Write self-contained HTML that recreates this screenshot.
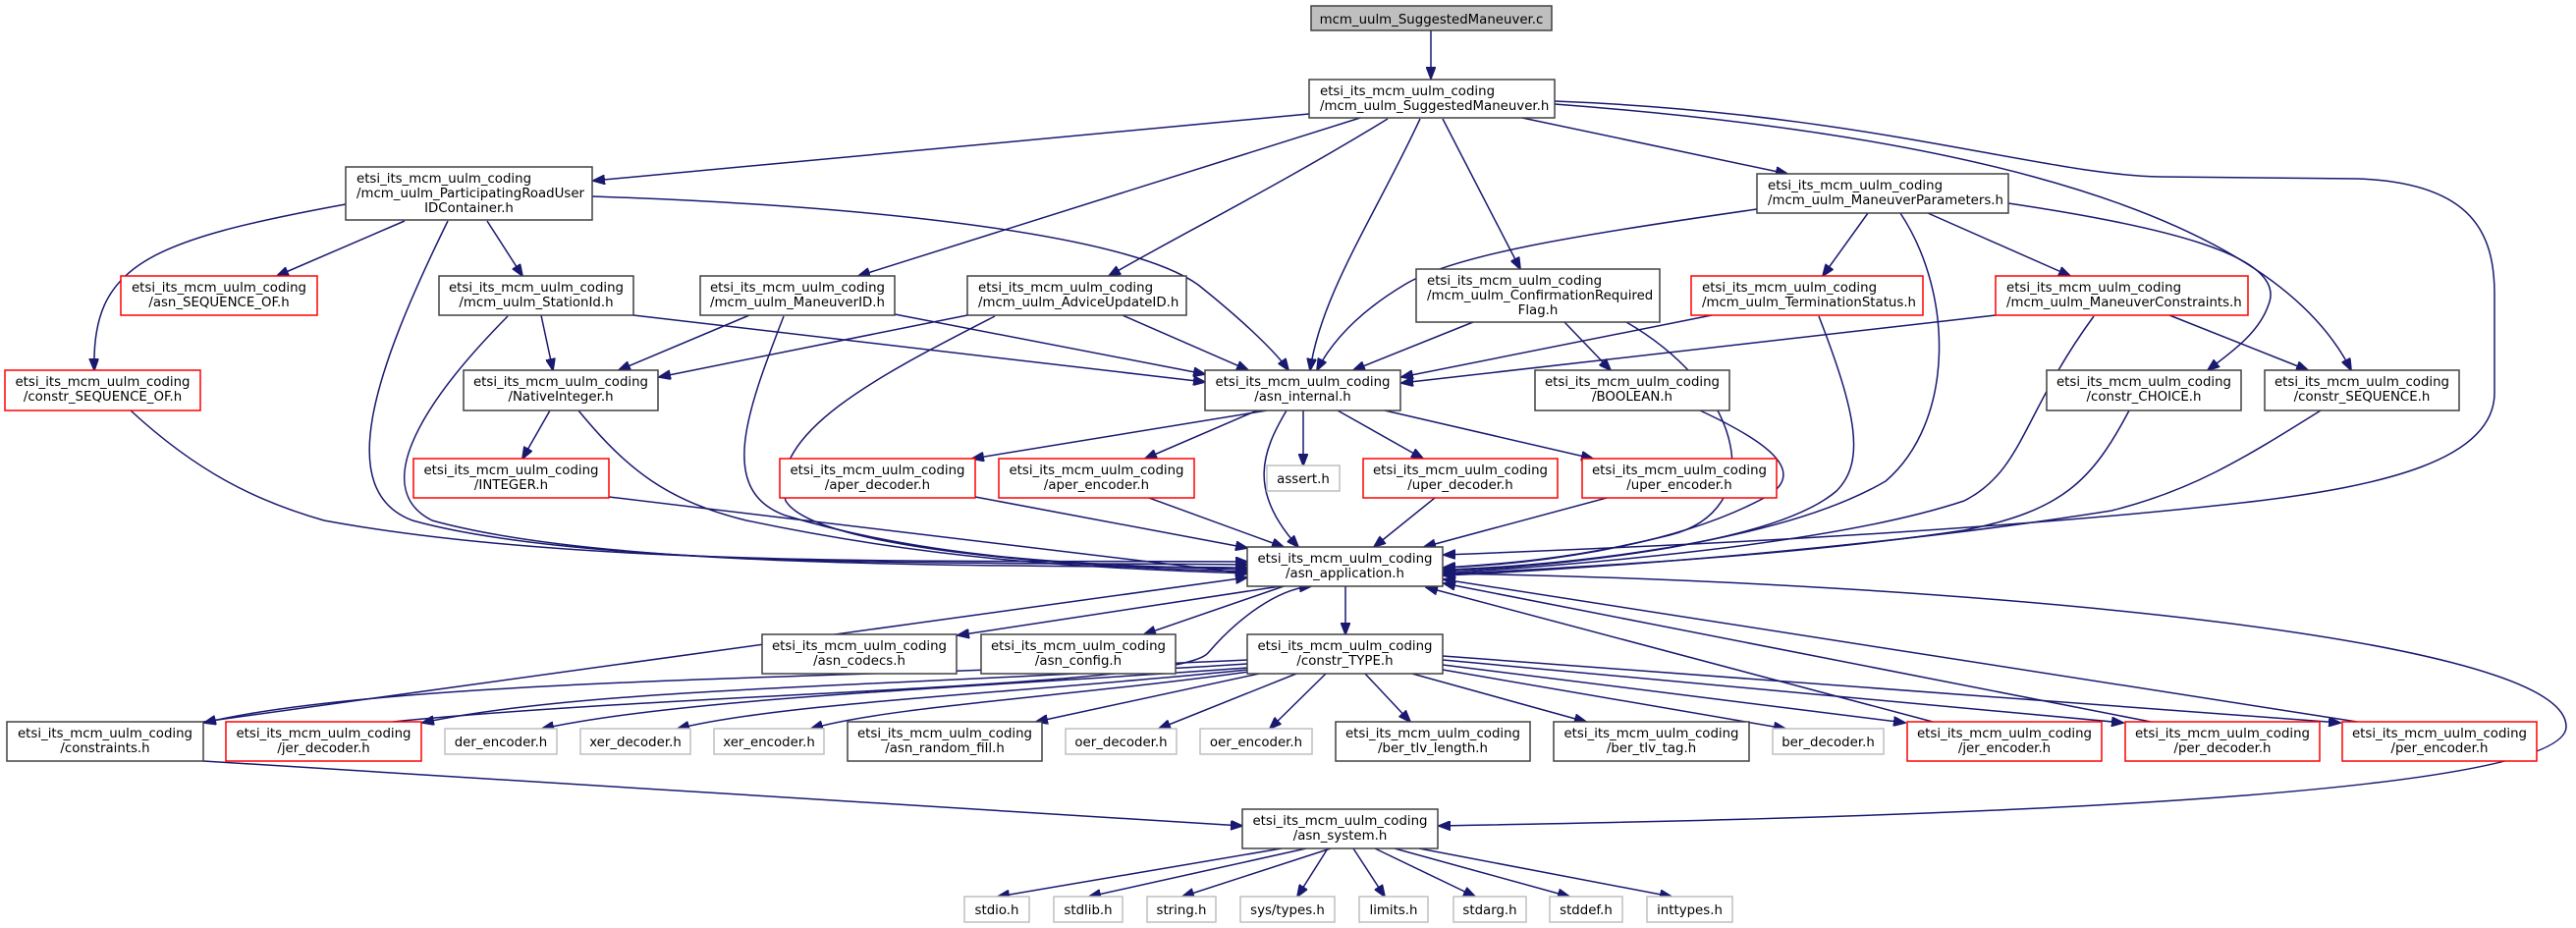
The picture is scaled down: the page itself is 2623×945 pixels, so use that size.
<!DOCTYPE html>
<html><head><meta charset="utf-8"><style>
html,body{margin:0;padding:0;background:#fff}
svg{display:block}
text{font-family:"DejaVu Sans","Liberation Sans",sans-serif;font-size:13.33px;fill:#000}
.n{fill:#fff;stroke:#404040;stroke-width:1.5}
.r{fill:#fff;stroke:#ff0000;stroke-width:1.5}
.g{fill:#fff;stroke:#bfbfbf;stroke-width:1.5}
.e{fill:none;stroke:#191970;stroke-width:1.5;marker-end:url(#a)}
</style></head><body>
<svg width="2623" height="945" viewBox="0 0 2623 945" xmlns="http://www.w3.org/2000/svg">
<defs><marker id="a" markerUnits="userSpaceOnUse" markerWidth="13" markerHeight="10" viewBox="0 0 13 10" refX="12" refY="5" orient="auto"><path d="M0,0 L13,5 L0,10 z" fill="#191970" stroke="#191970"/></marker></defs>

<!-- edges -->
<path class="e" d="M1457,31 L1457,80"/>
<path class="e" d="M1333,116 L604,184"/>
<path class="e" d="M1385,120 L874,281"/>
<path class="e" d="M1413,121 C1300,190 1200,240 1129,281"/>
<path class="e" d="M1446,121 C1400,220 1345,300 1334,377"/>
<path class="e" d="M1469,121 L1548,274"/>
<path class="e" d="M1550,120 L1820,177"/>
<path class="e" d="M1583,106 C1900,130 2300,190 2394,377"/>
<path class="e" d="M1583,103 C1900,115 2080,178 2200,180 L2400,182 C2520,186 2540,240 2540,300 L2540,400 C2540,470 2420,495 2300,510 C2000,545 1600,560 1470,565"/>
<path class="e" d="M412,225 L282,281"/>
<path class="e" d="M352,208 C150,245 93,270 96,377"/>
<path class="e" d="M496,225 L532,281"/>
<path class="e" d="M456,225 C380,380 340,500 420,530 C600,580 1000,572 1270,575"/>
<path class="e" d="M603,200 C900,210 1150,240 1220,290 C1270,330 1300,360 1312,377"/>
<path class="e" d="M551,321 L563,377"/>
<path class="e" d="M645,321 L1227,389"/>
<path class="e" d="M517,322 C420,420 380,500 440,530 C620,580 1000,575 1270,578"/>
<path class="e" d="M763,321 L630,377"/>
<path class="e" d="M911,320 L1227,381"/>
<path class="e" d="M798,322 C760,420 730,500 800,525 C950,570 1100,575 1270,580"/>
<path class="e" d="M985,321 L671,384"/>
<path class="e" d="M1143,321 L1271,377"/>
<path class="e" d="M1013,322 C900,380 780,440 800,510 C830,560 1100,578 1270,582"/>
<path class="e" d="M1500,328 L1378,377"/>
<path class="e" d="M1593,328 L1640,377"/>
<path class="e" d="M1656,328 C1780,400 1800,520 1700,545 C1600,570 1520,575 1470,578"/>
<path class="e" d="M1789,213 C1600,240 1480,260 1430,290 C1380,320 1355,350 1341,377"/>
<path class="e" d="M1902,217 L1856,281"/>
<path class="e" d="M1963,217 L2108,281"/>
<path class="e" d="M2045,207 C2200,230 2330,260 2310,310 C2300,340 2270,360 2248,377"/>
<path class="e" d="M1935,217 C1990,300 1990,430 1920,490 C1800,560 1550,578 1470,580"/>
<path class="e" d="M1743,321 L1427,384"/>
<path class="e" d="M1852,322 C1890,420 1900,470 1870,500 C1800,560 1550,578 1470,582"/>
<path class="e" d="M2032,321 L1427,390"/>
<path class="e" d="M2209,321 L2350,377"/>
<path class="e" d="M2132,322 C2060,420 2060,480 2000,510 C1850,560 1550,578 1470,584"/>
<path class="e" d="M2168,418 C2130,490 2100,520 2000,540 C1800,570 1550,580 1470,585"/>
<path class="e" d="M2363,418 C2280,470 2230,500 2150,520 C1900,560 1600,580 1470,586"/>
<path class="e" d="M133,418 C200,480 260,510 330,530 C600,580 1000,570 1270,572"/>
<path class="e" d="M560,418 L532,467"/>
<path class="e" d="M589,418 C640,480 680,510 760,530 C950,570 1100,578 1270,584"/>
<path class="e" d="M620,506 L1270,584"/>
<path class="e" d="M1290,418 L990,467"/>
<path class="e" d="M1280,418 L1166,467"/>
<path class="e" d="M1327,418 L1327,474"/>
<path class="e" d="M1362,418 L1449,467"/>
<path class="e" d="M1410,418 L1622,467"/>
<path class="e" d="M1310,418 C1285,460 1270,500 1322,557"/>
<path class="e" d="M1731,418 C1800,450 1840,480 1800,505 C1700,560 1550,575 1470,578"/>
<path class="e" d="M993,506 L1270,558"/>
<path class="e" d="M1170,507 L1307,557"/>
<path class="e" d="M1461,507 L1399,557"/>
<path class="e" d="M1636,507 L1450,557"/>
<path class="e" d="M1310,596 L975,647"/>
<path class="e" d="M1310,596 L1165,646"/>
<path class="e" d="M1370,597 L1370,646"/>
<path class="e" d="M1469,584 C1900,590 2613,640 2613,740 C2613,820 1800,835 1465,841"/>
<path class="e" d="M207,735 L1270,588"/>
<path class="e" d="M207,775 L1265,841"/>
<path class="e" d="M1270,672 C900,690 400,690 208,736"/>
<path class="e" d="M1270,676 C900,700 600,700 430,736"/>
<path class="e" d="M1270,680 C1000,700 700,710 552,742"/>
<path class="e" d="M1270,682 C1050,705 800,715 690,742"/>
<path class="e" d="M1272,684 C1100,708 900,720 826,742"/>
<path class="e" d="M1282,686 L1055,735"/>
<path class="e" d="M1320,686 L1180,742"/>
<path class="e" d="M1350,686 L1293,742"/>
<path class="e" d="M1390,686 L1436,735"/>
<path class="e" d="M1438,686 L1615,735"/>
<path class="e" d="M1469,682 L1818,742"/>
<path class="e" d="M1469,677 L1940,736"/>
<path class="e" d="M1469,672 L2162,736"/>
<path class="e" d="M1469,668 L2383,736"/>
<path class="e" d="M400,735 C700,705 1200,700 1230,665 C1260,630 1300,600 1335,597"/>
<path class="e" d="M1968,735 L1452,598"/>
<path class="e" d="M2190,735 L1470,594"/>
<path class="e" d="M2400,735 L1470,590"/>
<path class="e" d="M1305,864 L1016,913"/>
<path class="e" d="M1330,864 L1109,913"/>
<path class="e" d="M1355,864 L1204,913"/>
<path class="e" d="M1352,864 L1321,913"/>
<path class="e" d="M1378,864 L1410,913"/>
<path class="e" d="M1400,864 L1502,913"/>
<path class="e" d="M1420,864 L1598,913"/>
<path class="e" d="M1445,864 L1702,913"/>

<!-- nodes -->
<rect x="1335" y="6" width="245" height="25" fill="#bfbfbf" stroke="#404040" stroke-width="1.5"/>
<text x="1457.5" y="24" text-anchor="middle">mcm_uulm_SuggestedManeuver.c</text>

<rect class="n" x="1333" y="81" width="250" height="39"/>
<text x="1344" y="97">etsi_its_mcm_uulm_coding</text><text x="1344" y="112">/mcm_uulm_SuggestedManeuver.h</text>

<rect class="n" x="352" y="170" width="251" height="54"/>
<text x="363" y="186">etsi_its_mcm_uulm_coding</text><text x="363" y="201">/mcm_uulm_ParticipatingRoadUser</text><text x="477.5" y="216" text-anchor="middle">IDContainer.h</text>

<rect class="n" x="1789" y="177" width="256" height="40"/>
<text x="1800" y="193">etsi_its_mcm_uulm_coding</text><text x="1800" y="208">/mcm_uulm_ManeuverParameters.h</text>

<rect class="r" x="123" y="281" width="200" height="40"/>
<text x="223" y="297" text-anchor="middle">etsi_its_mcm_uulm_coding</text><text x="223" y="312" text-anchor="middle">/asn_SEQUENCE_OF.h</text>

<rect class="n" x="447" y="281" width="198" height="40"/>
<text x="546" y="297" text-anchor="middle">etsi_its_mcm_uulm_coding</text><text x="546" y="312" text-anchor="middle">/mcm_uulm_StationId.h</text>

<rect class="n" x="713" y="281" width="198" height="40"/>
<text x="812" y="297" text-anchor="middle">etsi_its_mcm_uulm_coding</text><text x="812" y="312" text-anchor="middle">/mcm_uulm_ManeuverID.h</text>

<rect class="n" x="985" y="281" width="223" height="40"/>
<text x="996" y="297">etsi_its_mcm_uulm_coding</text><text x="996" y="312">/mcm_uulm_AdviceUpdateID.h</text>

<rect class="n" x="1442" y="274" width="248" height="54"/>
<text x="1453" y="290">etsi_its_mcm_uulm_coding</text><text x="1453" y="305">/mcm_uulm_ConfirmationRequired</text><text x="1566" y="320" text-anchor="middle">Flag.h</text>

<rect class="r" x="1722" y="281" width="236" height="40"/>
<text x="1733" y="297">etsi_its_mcm_uulm_coding</text><text x="1733" y="312">/mcm_uulm_TerminationStatus.h</text>

<rect class="r" x="2032" y="281" width="257" height="40"/>
<text x="2043" y="297">etsi_its_mcm_uulm_coding</text><text x="2043" y="312">/mcm_uulm_ManeuverConstraints.h</text>

<rect class="r" x="5" y="377" width="199" height="41"/>
<text x="104.5" y="393" text-anchor="middle">etsi_its_mcm_uulm_coding</text><text x="104.5" y="408" text-anchor="middle">/constr_SEQUENCE_OF.h</text>

<rect class="n" x="472" y="377" width="198" height="41"/>
<text x="571" y="393" text-anchor="middle">etsi_its_mcm_uulm_coding</text><text x="571" y="408" text-anchor="middle">/NativeInteger.h</text>

<rect class="n" x="1227" y="377" width="199" height="41"/>
<text x="1326.5" y="393" text-anchor="middle">etsi_its_mcm_uulm_coding</text><text x="1326.5" y="408" text-anchor="middle">/asn_internal.h</text>

<rect class="n" x="1563" y="377" width="198" height="41"/>
<text x="1662" y="393" text-anchor="middle">etsi_its_mcm_uulm_coding</text><text x="1662" y="408" text-anchor="middle">/BOOLEAN.h</text>

<rect class="n" x="2084" y="377" width="198" height="41"/>
<text x="2183" y="393" text-anchor="middle">etsi_its_mcm_uulm_coding</text><text x="2183" y="408" text-anchor="middle">/constr_CHOICE.h</text>

<rect class="n" x="2306" y="377" width="198" height="41"/>
<text x="2405" y="393" text-anchor="middle">etsi_its_mcm_uulm_coding</text><text x="2405" y="408" text-anchor="middle">/constr_SEQUENCE.h</text>

<rect class="r" x="421" y="467" width="199" height="40"/>
<text x="520.5" y="483" text-anchor="middle">etsi_its_mcm_uulm_coding</text><text x="520.5" y="498" text-anchor="middle">/INTEGER.h</text>

<rect class="r" x="794" y="467" width="199" height="40"/>
<text x="893.5" y="483" text-anchor="middle">etsi_its_mcm_uulm_coding</text><text x="893.5" y="498" text-anchor="middle">/aper_decoder.h</text>

<rect class="r" x="1017" y="467" width="199" height="40"/>
<text x="1116.5" y="483" text-anchor="middle">etsi_its_mcm_uulm_coding</text><text x="1116.5" y="498" text-anchor="middle">/aper_encoder.h</text>

<rect class="g" x="1290" y="474" width="74" height="26"/>
<text x="1327" y="492" text-anchor="middle">assert.h</text>

<rect class="r" x="1388" y="467" width="198" height="40"/>
<text x="1487" y="483" text-anchor="middle">etsi_its_mcm_uulm_coding</text><text x="1487" y="498" text-anchor="middle">/uper_decoder.h</text>

<rect class="r" x="1611" y="467" width="198" height="40"/>
<text x="1710" y="483" text-anchor="middle">etsi_its_mcm_uulm_coding</text><text x="1710" y="498" text-anchor="middle">/uper_encoder.h</text>

<rect class="n" x="1270" y="557" width="199" height="40"/>
<text x="1369.5" y="573" text-anchor="middle">etsi_its_mcm_uulm_coding</text><text x="1369.5" y="588" text-anchor="middle">/asn_application.h</text>

<rect class="n" x="776" y="646" width="198" height="40"/>
<text x="875" y="662" text-anchor="middle">etsi_its_mcm_uulm_coding</text><text x="875" y="677" text-anchor="middle">/asn_codecs.h</text>

<rect class="n" x="999" y="646" width="198" height="40"/>
<text x="1098" y="662" text-anchor="middle">etsi_its_mcm_uulm_coding</text><text x="1098" y="677" text-anchor="middle">/asn_config.h</text>

<rect class="n" x="1270" y="646" width="199" height="40"/>
<text x="1369.5" y="662" text-anchor="middle">etsi_its_mcm_uulm_coding</text><text x="1369.5" y="677" text-anchor="middle">/constr_TYPE.h</text>

<rect class="n" x="7" y="735" width="200" height="40"/>
<text x="107" y="751" text-anchor="middle">etsi_its_mcm_uulm_coding</text><text x="107" y="766" text-anchor="middle">/constraints.h</text>

<rect class="r" x="230" y="735" width="199" height="40"/>
<text x="329.5" y="751" text-anchor="middle">etsi_its_mcm_uulm_coding</text><text x="329.5" y="766" text-anchor="middle">/jer_decoder.h</text>

<rect class="g" x="453" y="742" width="114" height="26"/><text x="510" y="760" text-anchor="middle">der_encoder.h</text>
<rect class="g" x="591" y="742" width="112" height="26"/><text x="647" y="760" text-anchor="middle">xer_decoder.h</text>
<rect class="g" x="727" y="742" width="112" height="26"/><text x="783" y="760" text-anchor="middle">xer_encoder.h</text>

<rect class="n" x="863" y="735" width="198" height="40"/>
<text x="962" y="751" text-anchor="middle">etsi_its_mcm_uulm_coding</text><text x="962" y="766" text-anchor="middle">/asn_random_fill.h</text>

<rect class="g" x="1085" y="742" width="113" height="26"/><text x="1141.5" y="760" text-anchor="middle">oer_decoder.h</text>
<rect class="g" x="1222" y="742" width="114" height="26"/><text x="1279" y="760" text-anchor="middle">oer_encoder.h</text>

<rect class="n" x="1360" y="735" width="198" height="40"/>
<text x="1459" y="751" text-anchor="middle">etsi_its_mcm_uulm_coding</text><text x="1459" y="766" text-anchor="middle">/ber_tlv_length.h</text>

<rect class="n" x="1582" y="735" width="199" height="40"/>
<text x="1681.5" y="751" text-anchor="middle">etsi_its_mcm_uulm_coding</text><text x="1681.5" y="766" text-anchor="middle">/ber_tlv_tag.h</text>

<rect class="g" x="1805" y="742" width="113" height="26"/><text x="1861.5" y="760" text-anchor="middle">ber_decoder.h</text>

<rect class="r" x="1942" y="735" width="198" height="40"/>
<text x="2041" y="751" text-anchor="middle">etsi_its_mcm_uulm_coding</text><text x="2041" y="766" text-anchor="middle">/jer_encoder.h</text>

<rect class="r" x="2164" y="735" width="198" height="40"/>
<text x="2263" y="751" text-anchor="middle">etsi_its_mcm_uulm_coding</text><text x="2263" y="766" text-anchor="middle">/per_decoder.h</text>

<rect class="r" x="2385" y="735" width="198" height="40"/>
<text x="2484" y="751" text-anchor="middle">etsi_its_mcm_uulm_coding</text><text x="2484" y="766" text-anchor="middle">/per_encoder.h</text>

<rect class="n" x="1265" y="824" width="199" height="40"/>
<text x="1364.5" y="840" text-anchor="middle">etsi_its_mcm_uulm_coding</text><text x="1364.5" y="855" text-anchor="middle">/asn_system.h</text>

<rect class="g" x="982" y="913" width="66" height="26"/><text x="1015" y="931" text-anchor="middle">stdio.h</text>
<rect class="g" x="1073" y="913" width="70" height="26"/><text x="1108" y="931" text-anchor="middle">stdlib.h</text>
<rect class="g" x="1168" y="913" width="70" height="26"/><text x="1203" y="931" text-anchor="middle">string.h</text>
<rect class="g" x="1263" y="913" width="96" height="26"/><text x="1311" y="931" text-anchor="middle">sys/types.h</text>
<rect class="g" x="1384" y="913" width="70" height="26"/><text x="1419" y="931" text-anchor="middle">limits.h</text>
<rect class="g" x="1480" y="913" width="74" height="26"/><text x="1517" y="931" text-anchor="middle">stdarg.h</text>
<rect class="g" x="1578" y="913" width="74" height="26"/><text x="1615" y="931" text-anchor="middle">stddef.h</text>
<rect class="g" x="1677" y="913" width="87" height="26"/><text x="1720.5" y="931" text-anchor="middle">inttypes.h</text>
</svg>
</body></html>
